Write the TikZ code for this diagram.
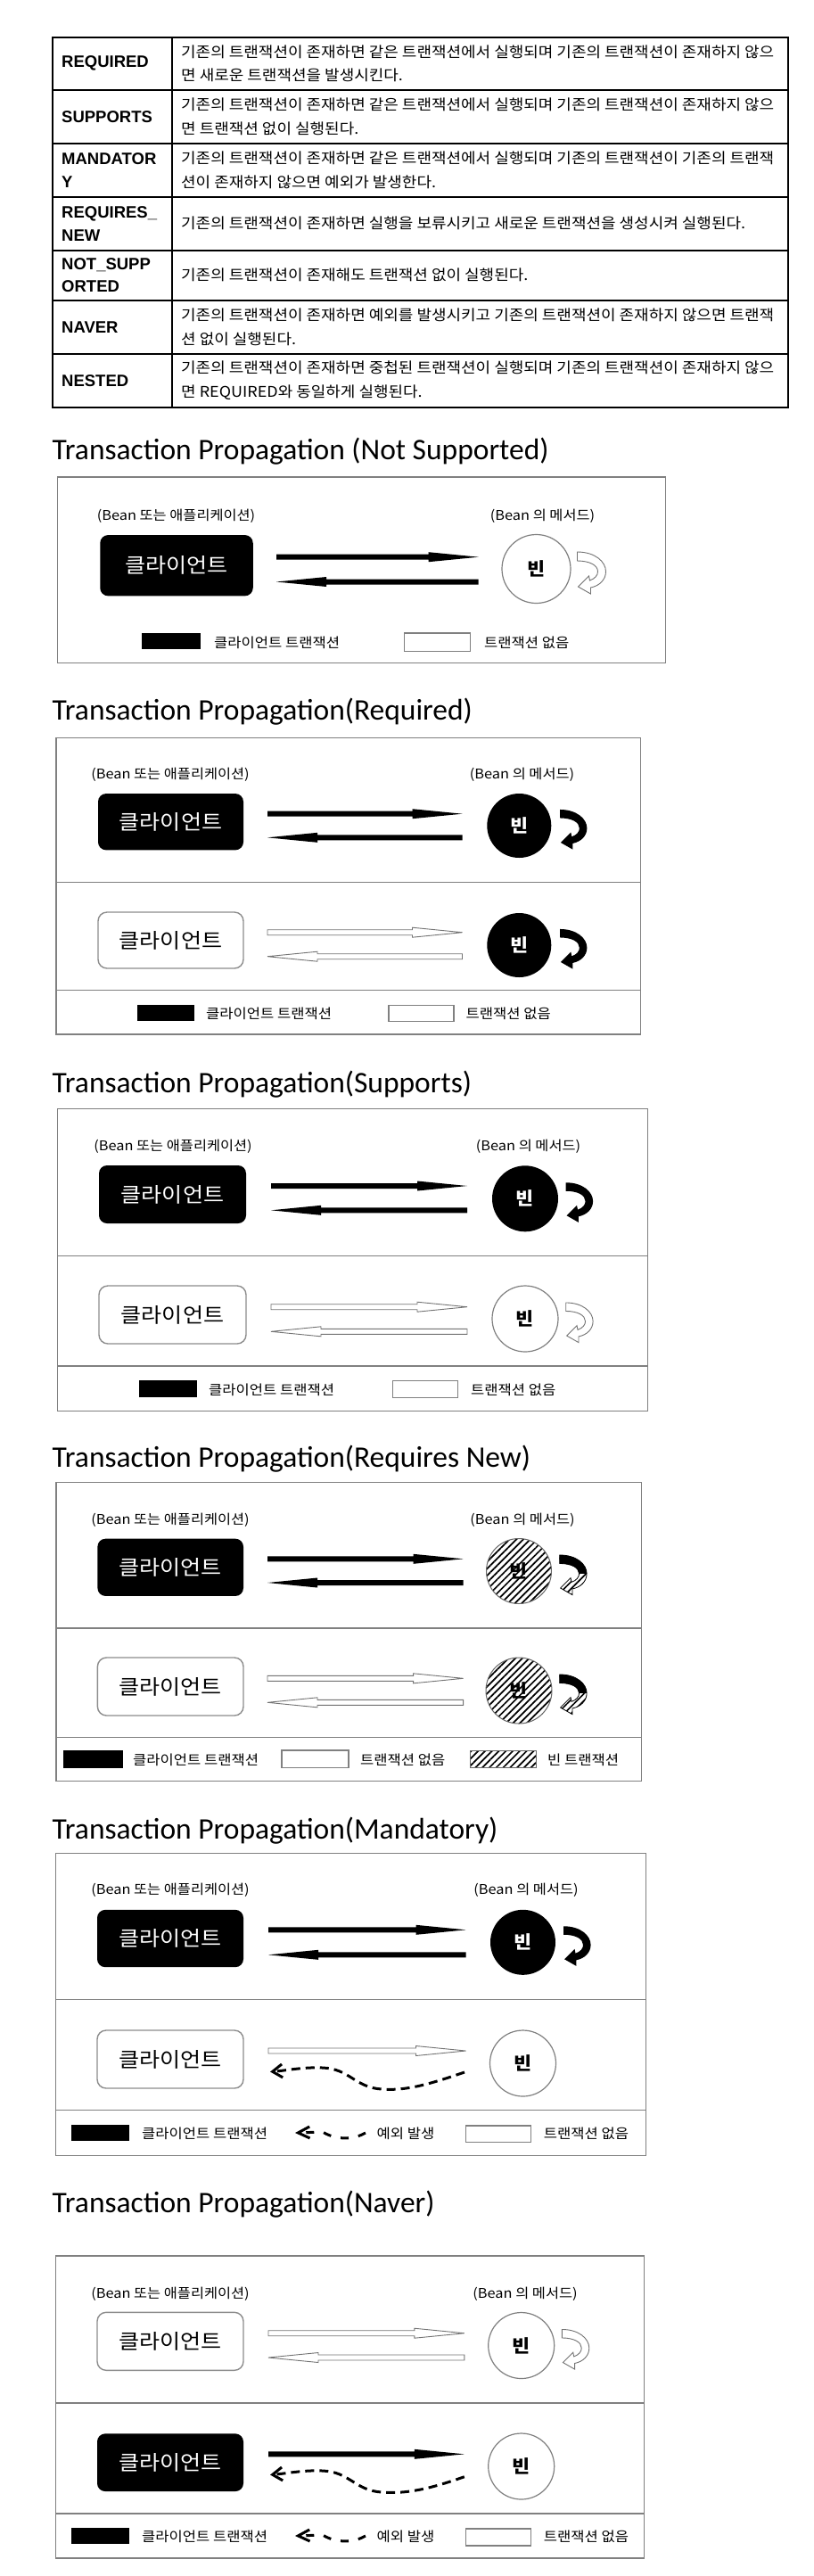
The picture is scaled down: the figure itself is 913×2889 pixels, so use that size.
\documentclass[tikz,border=0pt]{standalone}
\usepackage{fontspec}
\usetikzlibrary{calc,arrows.meta,patterns.meta}
\newfontfamily\kr[FakeStretch=1.09]{Noto Sans CJK KR}
\newfontfamily\ttlfont{Carlito}
\newfontfamily\tblfont{Liberation Sans}

\newcommand\flowarrow[3]{%
  \coordinate (hb) at ($(#3)!56pt!(#2)$);
  \path[#1] ($(#2)!3pt!90:(#3)$) -- ($(hb)!3pt!90:(#3)$) -- ($(hb)!5.5pt!90:(#3)$) -- (#3)
     -- ($(hb)!5.5pt!-90:(#3)$) -- ($(hb)!3pt!-90:(#3)$) -- ($(#2)!3pt!-90:(#3)$) -- cycle;}
\newcommand\selfpath{(46,-19) .. controls (66,-19) and (78,-8) .. (78,3) .. controls (78,12) and (71,19) .. (61,21) -- (61,28) -- (47,20) -- (59,8) -- (60,13) .. controls (66,11) and (69,7) .. (69,3) .. controls (69,-4) and (60,-9) .. (46,-9) -- cycle}

\tikzset{
  blk/.style={fill=black},
  hol/.style={fill=white, draw=black!55, line width=0.9pt},
  hatch/.style={pattern={Lines[angle=45,distance=5.5pt,line width=1.7pt]}},
  tblline/.style={draw=black, line width=1.8pt},
  outerbox/.style={draw=black!50, line width=1.5pt},
  clientb/.style={rectangle, rounded corners=9pt, fill=black, text=white, inner sep=0pt, font=\kr\fontsize{23}{25}\selectfont},
  clientw/.style={rectangle, rounded corners=10pt, fill=white, draw=black!45, line width=1.4pt, text=black, inner sep=0pt, font=\kr\fontsize{23}{25}\selectfont},
  beanb/.style={circle, fill=black, text=white, inner sep=0pt, font=\kr\bfseries\fontsize{20}{22}\selectfont},
  beanw/.style={circle, fill=white, draw=black!50, line width=1.2pt, text=black, inner sep=0pt, font=\kr\bfseries\fontsize{20}{22}\selectfont},
  beanh/.style={circle, hatch, draw=black!60, line width=1pt, text=black, inner sep=0pt, font=\kr\bfseries\fontsize{20}{22}\selectfont},
  lbl/.style={inner sep=0pt, font=\kr\fontsize{15}{17}\selectfont},
  legtxt/.style={inner sep=0pt, anchor=west, font=\kr\fontsize{15.2}{17}\selectfont},
  legb/.style={rectangle, fill=black, inner sep=0pt},
  legw/.style={rectangle, fill=white, draw=black!50, line width=1.3pt, inner sep=0pt},
  legh/.style={rectangle, hatch, draw=black!60, line width=1pt, inner sep=0pt},
  ttl/.style={anchor=base west, inner sep=0pt, font=\ttlfont\fontsize{33.5}{36}\selectfont},
  tk/.style={anchor=west, align=left, inner sep=0pt, font=\tblfont\bfseries\fontsize{18.5}{25.7}\selectfont},
  tv/.style={anchor=west, align=left, inner sep=0pt, font=\kr\fontsize{16.5}{26.7}\selectfont},
  exc/.style={line width=3pt, dash pattern=on 10pt off 6pt, -{Straight Barb[length=11pt,width=15pt,line width=3pt]}},
  excleg/.style={line width=3pt, dash pattern=on 9pt off 11pt, -{Straight Barb[length=13pt,width=13pt,line width=3pt]}},
  selfarrow/.pic={\path[pic actions] \selfpath;},
  selfarrowh/.pic={\path[hatch] \selfpath;
     \begin{scope}\clip (30,-30) rectangle (90,3); \fill[black] \selfpath; \end{scope}
     \draw[black, line width=0.8pt] \selfpath;},
}

\begin{document}
\begin{tikzpicture}[x=1pt,y=-1pt]
\useasboundingbox[fill=white] (0,0) rectangle (913,2889);

%%%%% TABLE
\draw[tblline] (59,41.7) rectangle (884,456.7);
\draw[tblline] (193,41.7) -- (193,456.7);
\foreach \yy in {100.7,161,220.7,280.7,336.7,396.7} \draw[tblline] (59,\yy) -- (884,\yy);
\node[tk] (k1) at (69,71.2) {REQUIRED};
\node[tk] (k2) at (69,130.9) {SUPPORTS};
\node[tk] (k3) at (69,190.9) {MANDATOR\\Y};
\node[tk] (k4) at (69,250.7) {REQUIRES\_\\NEW};
\node[tk] (k5) at (69,308.7) {NOT\_SUPP\\ORTED};
\node[tk] (k6) at (69,366.7) {NAVER};
\node[tk] (k7) at (69,426.7) {NESTED};
\node[tv] (v1) at (203,71.2) {기존의 트랜잭션이 존재하면 같은 트랜잭션에서 실행되며 기존의 트랜잭션이 존재하지 않으\\면 새로운 트랜잭션을 발생시킨다.};
\node[tv] (v2) at (203,130.9) {기존의 트랜잭션이 존재하면 같은 트랜잭션에서 실행되며 기존의 트랜잭션이 존재하지 않으\\면 트랜잭션 없이 실행된다.};
\node[tv] (v3) at (203,190.9) {기존의 트랜잭션이 존재하면 같은 트랜잭션에서 실행되며 기존의 트랜잭션이 기존의 트랜잭\\션이 존재하지 않으면 예외가 발생한다.};
\node[tv] (v4) at (203,250.7) {기존의 트랜잭션이 존재하면 실행을 보류시키고 새로운 트랜잭션을 생성시켜 실행된다.};
\node[tv] (v5) at (203,308.7) {기존의 트랜잭션이 존재해도 트랜잭션 없이 실행된다.};
\node[tv] (v6) at (203,366.7) {기존의 트랜잭션이 존재하면 예외를 발생시키고 기존의 트랜잭션이 존재하지 않으면 트랜잭\\션 없이 실행된다.};
\node[tv] (v7) at (203,426.7) {기존의 트랜잭션이 존재하면 중첩된 트랜잭션이 실행되며 기존의 트랜잭션이 존재하지 않으\\면 REQUIRED와 동일하게 실행된다.};

%%%%% D1 NOT SUPPORTED
\node[ttl] (t1) at (58.5,515) {Transaction Propagation (Not Supported)};
\draw[outerbox] (64.4,535) rectangle (746.6,743.3);
\node[lbl] (l1a) at (197.5,578.3) {(Bean 또는 애플리케이션)};
\node[lbl] (l1b) at (608.5,578.3) {(Bean 의 메서드)};
\node[clientb, minimum width=171.5pt, minimum height=68.3pt] (c1) at (198,634.2) {클라이언트};
\node[beanw, minimum size=77pt] (b1) at (601.5,638) {빈};
\coordinate (a1s) at (310,624.7); \coordinate (a1e) at (536.7,624.7);
\flowarrow{blk}{a1s}{a1e}
\coordinate (a2s) at (536.7,652.5); \coordinate (a2e) at (310,652.5);
\flowarrow{blk}{a2s}{a2e}
\pic[hol] at (b1.center) {selfarrow};
\node[legb, minimum width=66.3pt, minimum height=18.3pt] (g1a) at (192.15,719.15) {};
\node[legtxt] (g1at) at (240,720.7) {클라이언트 트랜잭션};
\node[legw, minimum width=74.3pt, minimum height=20.7pt] (g1b) at (490.65,720.35) {};
\node[legtxt] (g1bt) at (543,720.7) {트랜잭션 없음};

%%%%% D2 REQUIRED
\node[ttl] (t2) at (58.5,807) {Transaction Propagation(Required)};
\draw[outerbox] (63,827.3) rectangle (718.5,1160);
\draw[outerbox] (63,989.3) -- (718.5,989.3);
\draw[outerbox] (63,1110.7) -- (718.5,1110.7);
\node[lbl] (l2a) at (191,869) {(Bean 또는 애플리케이션)};
\node[lbl] (l2b) at (585.5,869) {(Bean 의 메서드)};
\node[clientb, minimum width=163pt, minimum height=63.3pt] (c2) at (191.5,921.7) {클라이언트};
\node[beanb, minimum size=72pt] (b2) at (582.3,926) {빈};
\coordinate (a3s) at (300,912.7); \coordinate (a3e) at (518.5,912.7);
\flowarrow{blk}{a3s}{a3e}
\coordinate (a4s) at (518.5,939.3); \coordinate (a4e) at (300,939.3);
\flowarrow{blk}{a4s}{a4e}
\pic[fill=black, scale=.95] at ([xshift=2pt]b2.center) {selfarrow};
\node[clientw, minimum width=163pt, minimum height=63pt] (c3) at (191.5,1054.5) {클라이언트};
\node[beanb, minimum size=72pt] (b3) at (582.3,1060) {빈};
\coordinate (a5s) at (300,1045.7); \coordinate (a5e) at (518.5,1045.7);
\flowarrow{hol}{a5s}{a5e}
\coordinate (a6s) at (518.5,1072.7); \coordinate (a6e) at (300,1072.7);
\flowarrow{hol}{a6s}{a6e}
\pic[fill=black, scale=.95] at ([xshift=2pt]b3.center) {selfarrow};
\node[legb, minimum width=64pt, minimum height=18.3pt] (g2a) at (186,1135.85) {};
\node[legtxt] (g2at) at (231,1137) {클라이언트 트랜잭션};
\node[legw, minimum width=73pt, minimum height=18pt] (g2b) at (472.5,1136.7) {};
\node[legtxt] (g2bt) at (522.5,1137) {트랜잭션 없음};

%%%%% D3 SUPPORTS
\node[ttl] (t3) at (58.5,1225) {Transaction Propagation(Supports)};
\draw[outerbox] (64.4,1243.3) rectangle (726.7,1582.7);
\draw[outerbox] (64.4,1408.7) -- (726.7,1408.7);
\draw[outerbox] (64.4,1532) -- (726.7,1532);
\node[lbl] (l3a) at (194,1285.7) {(Bean 또는 애플리케이션)};
\node[lbl] (l3b) at (592.5,1285.7) {(Bean 의 메서드)};
\node[clientb, minimum width=165pt, minimum height=65pt] (c4) at (193.5,1339.5) {클라이언트};
\node[beanb, minimum size=74pt] (b4) at (589,1344.3) {빈};
\coordinate (a7s) at (304,1330); \coordinate (a7e) at (524,1330);
\flowarrow{blk}{a7s}{a7e}
\coordinate (a8s) at (524,1357.3); \coordinate (a8e) at (304,1357.3);
\flowarrow{blk}{a8s}{a8e}
\pic[fill=black, scale=.95] at ([xshift=2pt]b4.center) {selfarrow};
\node[clientw, minimum width=165pt, minimum height=65pt] (c5) at (193.5,1474.5) {클라이언트};
\node[beanw, minimum size=74pt] (b5) at (589,1479) {빈};
\coordinate (a9s) at (304,1465.7); \coordinate (a9e) at (524,1465.7);
\flowarrow{hol}{a9s}{a9e}
\coordinate (a10s) at (524,1493.3); \coordinate (a10e) at (304,1493.3);
\flowarrow{hol}{a10s}{a10e}
\pic[hol, scale=.95] at ([xshift=2pt]b5.center) {selfarrow};
\node[legb, minimum width=65.4pt, minimum height=18.4pt] (g3a) at (188.3,1557.5) {};
\node[legtxt] (g3at) at (234,1558.5) {클라이언트 트랜잭션};
\node[legw, minimum width=73pt, minimum height=19pt] (g3b) at (477.15,1557.8) {};
\node[legtxt] (g3bt) at (528,1558.5) {트랜잭션 없음};

%%%%% D4 REQUIRES NEW
\node[ttl] (t4) at (58.5,1645) {Transaction Propagation(Requires New)};
\draw[outerbox] (63,1662.7) rectangle (719.7,1997.3);
\draw[outerbox] (63,1826) -- (719.7,1826);
\draw[outerbox] (63,1948.3) -- (719.7,1948.3);
\node[lbl] (l4a) at (191,1704.3) {(Bean 또는 애플리케이션)};
\node[lbl] (l4b) at (586,1704.3) {(Bean 의 메서드)};
\node[clientb, minimum width=163.6pt, minimum height=64.3pt] (c6) at (191.2,1757.8) {클라이언트};
\node[beanh, minimum size=73pt] (b6) at (582,1762) {빈};
\coordinate (a11s) at (300,1748.3); \coordinate (a11e) at (519.6,1748.3);
\flowarrow{blk}{a11s}{a11e}
\coordinate (a12s) at (519.6,1775); \coordinate (a12e) at (300,1775);
\flowarrow{blk}{a12s}{a12e}
\pic[scale=.95] at ([xshift=2pt]b6.center) {selfarrowh};
\node[clientw, minimum width=163.6pt, minimum height=65pt] (c7) at (191.2,1891.5) {클라이언트};
\node[beanh, minimum size=74pt] (b7) at (582,1896) {빈};
\coordinate (a13s) at (300,1882.3); \coordinate (a13e) at (519.6,1882.3);
\flowarrow{hol}{a13s}{a13e}
\coordinate (a14s) at (519.6,1909.3); \coordinate (a14e) at (300,1909.3);
\flowarrow{hol}{a14s}{a14e}
\pic[scale=.95] at ([xshift=2pt]b7.center) {selfarrowh};
\node[legb, minimum width=66.5pt, minimum height=19.7pt] (g4a) at (104.25,1972.85) {};
\node[legtxt] (g4at) at (149,1974) {클라이언트 트랜잭션};
\node[legw, minimum width=75pt, minimum height=19.7pt] (g4b) at (353.5,1972.85) {};
\node[legtxt] (g4bt) at (404,1974) {트랜잭션 없음};
\node[legh, minimum width=74.5pt, minimum height=19.7pt] (g4c) at (564.25,1972.85) {};
\node[legtxt] (g4ct) at (614,1974) {빈 트랜잭션};

%%%%% D5 MANDATORY
\node[ttl] (t5) at (58.5,2062) {Transaction Propagation(Mandatory)};
\draw[outerbox] (62.6,2078.3) rectangle (724.4,2417.3);
\draw[outerbox] (62.6,2242.7) -- (724.4,2242.7);
\draw[outerbox] (62.6,2366.7) -- (724.4,2366.7);
\node[lbl] (l5a) at (191,2120) {(Bean 또는 애플리케이션)};
\node[lbl] (l5b) at (590,2120) {(Bean 의 메서드)};
\node[clientb, minimum width=164pt, minimum height=64.3pt] (c8) at (191,2174) {클라이언트};
\node[beanb, minimum size=73pt] (b8) at (586.5,2178.3) {빈};
\coordinate (a15s) at (301,2164.3); \coordinate (a15e) at (522.5,2164.3);
\flowarrow{blk}{a15s}{a15e}
\coordinate (a16s) at (522.5,2192.3); \coordinate (a16e) at (301,2192.3);
\flowarrow{blk}{a16s}{a16e}
\pic[fill=black, scale=.95] at ([xshift=2pt]b8.center) {selfarrow};
\node[clientw, minimum width=164pt, minimum height=65pt] (c9) at (191,2309.5) {클라이언트};
\node[beanw, minimum size=74pt] (b9) at (586.5,2314) {빈};
\coordinate (a17s) at (301,2300); \coordinate (a17e) at (522.5,2300);
\flowarrow{hol}{a17s}{a17e}
\coordinate (x1s) at (521,2324); \coordinate (x1e) at (303,2323.5);
\draw[exc] (x1s) .. controls (480,2338) and (455,2345) .. (428,2343) .. controls (398,2341) and (392,2320) .. (362,2319) .. controls (340,2318) and (322,2322) .. (x1e);
\node[legb, minimum width=65pt, minimum height=18.3pt] (g5a) at (112.5,2391.85) {};
\node[legtxt] (g5at) at (159,2393) {클라이언트 트랜잭션};
\coordinate (x2s) at (410,2392); \coordinate (x2e) at (331,2392);
\draw[excleg] (x2s) .. controls (398,2399) and (378,2401) .. (362,2391) -- (x2e);
\node[legtxt] (g5ct) at (422.5,2393) {예외 발생};
\node[legw, minimum width=73.2pt, minimum height=18.7pt] (g5b) at (559.1,2393.35) {};
\node[legtxt] (g5bt) at (609.7,2393) {트랜잭션 없음};

%%%%% D6 NAVER
\node[ttl] (t6) at (58.5,2481) {Transaction Propagation(Naver)};
\draw[outerbox] (62.6,2530) rectangle (722.6,2869);
\draw[outerbox] (62.6,2695) -- (722.6,2695);
\draw[outerbox] (62.6,2819) -- (722.6,2819);
\node[lbl] (l6a) at (191,2572.3) {(Bean 또는 애플리케이션)};
\node[lbl] (l6b) at (589,2572.3) {(Bean 의 메서드)};
\node[clientw, minimum width=164pt, minimum height=65pt] (c10) at (191,2625.8) {클라이언트};
\node[beanw, minimum size=74pt] (b10) at (584.7,2630.5) {빈};
\coordinate (a18s) at (301,2616.7); \coordinate (a18e) at (520.8,2616.7);
\flowarrow{hol}{a18s}{a18e}
\coordinate (a19s) at (520.8,2644); \coordinate (a19e) at (301,2644);
\flowarrow{hol}{a19s}{a19e}
\pic[hol, scale=.95] at ([xshift=2pt]b10.center) {selfarrow};
\node[clientb, minimum width=164pt, minimum height=64.7pt] (c11) at (191,2761.7) {클라이언트};
\node[beanw, minimum size=74pt] (b11) at (584.7,2766) {빈};
\coordinate (a20s) at (301,2752.3); \coordinate (a20e) at (520.8,2752.3);
\flowarrow{blk}{a20s}{a20e}
\coordinate (x3s) at (520.8,2777.7); \coordinate (x3e) at (303,2775.5);
\draw[exc] (x3s) .. controls (480,2792) and (455,2797) .. (428,2795) .. controls (398,2793) and (392,2772) .. (362,2771) .. controls (340,2770) and (322,2774) .. (x3e);
\node[legb, minimum width=65pt, minimum height=18.3pt] (g6a) at (112.5,2844.15) {};
\node[legtxt] (g6at) at (159,2845) {클라이언트 트랜잭션};
\coordinate (x4s) at (410,2844); \coordinate (x4e) at (331,2844);
\draw[excleg] (x4s) .. controls (398,2851) and (378,2853) .. (362,2843) -- (x4e);
\node[legtxt] (g6ct) at (422.5,2845) {예외 발생};
\node[legw, minimum width=73.2pt, minimum height=19pt] (g6b) at (559.1,2845.5) {};
\node[legtxt] (g6bt) at (609.7,2845) {트랜잭션 없음};
\end{tikzpicture}
\end{document}
